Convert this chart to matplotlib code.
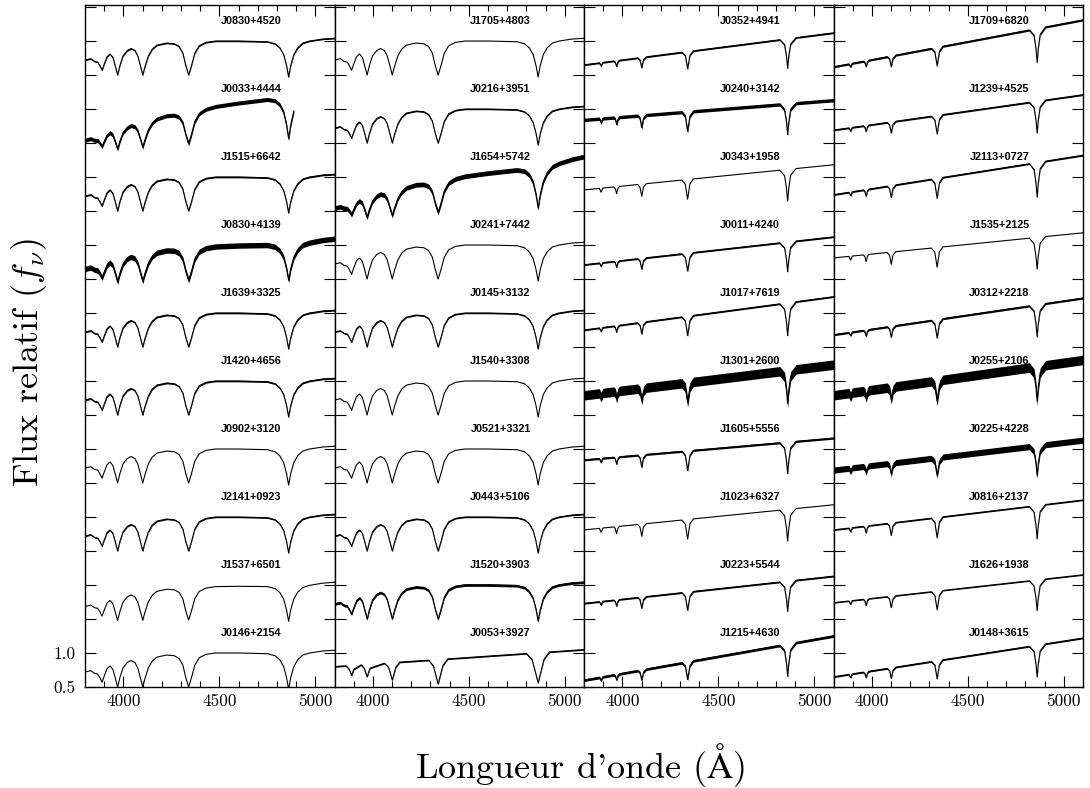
import matplotlib
matplotlib.use("Agg")
import matplotlib.pyplot as plt
import numpy as np

plt.rcParams['mathtext.fontset'] = 'cm'

# gabarit DA chaude (raies larges), lu sur J0146+2154
lam_chaud = [3800, 3830, 3850, 3866, 3877, 3889, 3900, 3915, 3930, 3945, 3957, 3970, 3982,
             3998, 4020, 4040, 4060, 4075, 4090, 4101, 4112, 4130, 4150, 4175, 4225, 4265,
             4290, 4310, 4325, 4340, 4355, 4372, 4395, 4430, 4480, 4600, 4750, 4790, 4815,
             4835, 4850, 4861, 4872, 4888, 4908, 4935, 4970, 5040, 5100]
flux_chaud = [0.72, 0.74, 0.70, 0.69, 0.64, 0.57, 0.66, 0.77, 0.81, 0.76, 0.64, 0.50, 0.64,
              0.78, 0.86, 0.89, 0.86, 0.78, 0.62, 0.50, 0.62, 0.78, 0.88, 0.94, 0.97, 0.96,
              0.92, 0.82, 0.64, 0.50, 0.64, 0.82, 0.93, 0.98, 1.00, 1.00, 0.99, 0.96, 0.90,
              0.80, 0.64, 0.47, 0.64, 0.80, 0.90, 0.97, 1.00, 1.03, 1.04]

# gabarit intermediaire, lu sur J0053+3927
lam_tiede = [3800, 3860, 3877, 3889, 3901, 3940, 3955, 3970, 3985, 4060, 4082, 4101, 4120,
             4140, 4290, 4315, 4340, 4365, 4390, 4800, 4830, 4861, 4892, 4920, 5100]
flux_tiede = [1.00, 1.00, 0.93, 0.82, 0.93, 1.00, 0.93, 0.78, 0.93, 1.00, 0.92, 0.70, 0.92,
              1.00, 1.00, 0.90, 0.60, 0.90, 1.00, 1.00, 0.90, 0.56, 0.90, 1.00, 1.00]

# gabarit DA froide (raies etroites), continuum ramene a 1
lam_froid = [3800, 3880, 3889, 3898, 3955, 3963, 3970, 3977, 3985, 4080, 4092, 4101, 4110,
             4125, 4310, 4328, 4340, 4352, 4370, 4820, 4845, 4855, 4861, 4867, 4877, 4905, 5100]
flux_froid = [1.00, 1.00, 0.93, 1.00, 1.00, 0.97, 0.88, 0.97, 1.00, 1.00, 0.95, 0.80, 0.95,
              1.00, 1.00, 0.93, 0.70, 0.93, 1.00, 1.00, 0.92, 0.75, 0.58, 0.75, 0.92, 1.00, 1.00]

gabarits = {'chaud': (lam_chaud, flux_chaud), 'tiede': (lam_tiede, flux_tiede),
            'froid': (lam_froid, flux_froid)}

# panneaux : du haut vers le bas
noms_1 = ['J0830+4520', 'J0033+4444', 'J1515+6642', 'J0830+4139', 'J1639+3325',
          'J1420+4656', 'J0902+3120', 'J2141+0923', 'J1537+6501', 'J0146+2154']
type_1 = ['chaud'] * 10
bleu_1 = [1.0, 0.75, 1.0, 0.90, 1.0, 1.0, 1.0, 1.0, 0.95, 1.0]
rouge_1 = [1.0, 1.30, 1.0, 1.05, 1.0, 1.0, 1.0, 1.0, 1.0, 1.0]
bruit_1 = [0.01, 0.03, 0.012, 0.04, 0.012, 0.012, 0.0, 0.01, 0.0, 0.0]
lmax_1 = [5100, 4900, 5100, 5100, 5100, 5100, 5100, 5100, 5100, 5100]

noms_2 = ['J1705+4803', 'J0216+3951', 'J1654+5742', 'J0241+7442', 'J0145+3132',
          'J1540+3308', 'J0521+3321', 'J0443+5106', 'J1520+3903', 'J0053+3927']
type_2 = ['chaud'] * 9 + ['tiede']
bleu_2 = [1.0, 1.0, 0.75, 1.0, 1.0, 1.0, 1.0, 1.0, 1.0, 0.80]
rouge_2 = [1.0, 1.0, 1.25, 1.0, 1.0, 1.0, 1.0, 1.0, 1.0, 1.05]
bruit_2 = [0.0, 0.01, 0.035, 0.0, 0.01, 0.0, 0.0, 0.01, 0.02, 0.01]
lmax_2 = [5100] * 10

noms_3 = ['J0352+4941', 'J0240+3142', 'J0343+1958', 'J0011+4240', 'J1017+7619',
          'J1301+2600', 'J1605+5556', 'J1023+6327', 'J0223+5544', 'J1215+4630']
type_3 = ['froid'] * 10
bleu_3 = [0.65, 0.84, 0.81, 0.71, 0.75, 0.79, 0.84, 0.81, 0.73, 0.60]
rouge_3 = [1.12, 1.13, 1.18, 1.12, 1.24, 1.24, 1.16, 1.18, 1.13, 1.25]
bruit_3 = [0.012, 0.025, 0.0, 0.012, 0.012, 0.07, 0.015, 0.0, 0.012, 0.02]
lmax_3 = [5100] * 10

noms_4 = ['J1709+6820', 'J1239+4525', 'J2113+0727', 'J1535+2125', 'J0312+2218',
          'J0255+2106', 'J0225+4228', 'J0816+2137', 'J1626+1938', 'J0148+3615']
type_4 = ['froid'] * 10
bleu_4 = [0.62, 0.69, 0.74, 0.81, 0.68, 0.79, 0.69, 0.81, 0.74, 0.65]
rouge_4 = [1.31, 1.21, 1.32, 1.18, 1.22, 1.31, 1.13, 1.25, 1.15, 1.22]
bruit_4 = [0.015, 0.012, 0.012, 0.0, 0.015, 0.07, 0.045, 0.01, 0.008, 0.012]
lmax_4 = [5100] * 10

panneaux = [(noms_1, type_1, bleu_1, rouge_1, bruit_1, lmax_1),
            (noms_2, type_2, bleu_2, rouge_2, bruit_2, lmax_2),
            (noms_3, type_3, bleu_3, rouge_3, bruit_3, lmax_3),
            (noms_4, type_4, bleu_4, rouge_4, bruit_4, lmax_4)]

fig = plt.figure(figsize=(10.9, 7.88), dpi=100)
x0, w = 85 / 1090, 249.5 / 1090
b, h = 1 - 687 / 788, 682 / 788

for k, (noms, types, bleu, rouge, bruit, lmax) in enumerate(panneaux):
    ax = fig.add_axes([x0 + k * w, b, w, h])
    n = len(noms)
    for i in range(n):
        decal = n - 1 - i
        lam, fl = gabarits[types[i]]
        lam = np.array(lam, float)
        fl = np.array(fl, float)
        pente = bleu[i] + (rouge[i] - bleu[i]) * (lam - 3800) / 1300
        y = fl * pente + decal
        m = lam <= lmax[i]
        if bruit[i] > 0:
            ax.fill_between(lam[m], y[m] - bruit[i], y[m] + bruit[i], color='black', lw=0)
        ax.plot(lam[m], y[m], color='black', lw=0.8)
        ax.text(4665, decal + 1.3, noms[i], ha='center', va='center', fontsize=7.8,
                fontweight='bold', family='Liberation Sans')
    ax.set_xlim(3800, 5100)
    ax.set_ylim(0.5, 10.53)
    ax.set_xticks([4000, 4500, 5000])
    ax.set_xticks(np.arange(3900, 5100, 100), minor=True)
    ax.set_yticks(np.arange(0.5, 10.6, 0.5))
    ax.tick_params(which='both', direction='in', top=True, right=True, width=0.8)
    ax.tick_params(which='major', length=8, labelsize=12.5, pad=5)
    ax.tick_params(which='minor', length=4)
    for lab in ax.get_xticklabels():
        lab.set_family('cmr10')
    if k == 0:
        ax.set_yticklabels(['0.5', '1.0'] + [''] * 19, family='cmr10')
        ax.tick_params(axis='y', pad=7)
    else:
        ax.set_yticklabels([])
    for s in ax.spines.values():
        s.set_linewidth(1.0)

fig.text(0.532, 0.029, "Longueur d'onde ($\\mathrm{\\AA}$)", ha='center', va='center',
         fontsize=26, family='cmr10')
fig.text(0.027, 0.54, "Flux relatif ($f_\\nu$)", ha='center', va='center',
         fontsize=26, family='cmr10', rotation=90)

fig.savefig('out.png', dpi=100)
